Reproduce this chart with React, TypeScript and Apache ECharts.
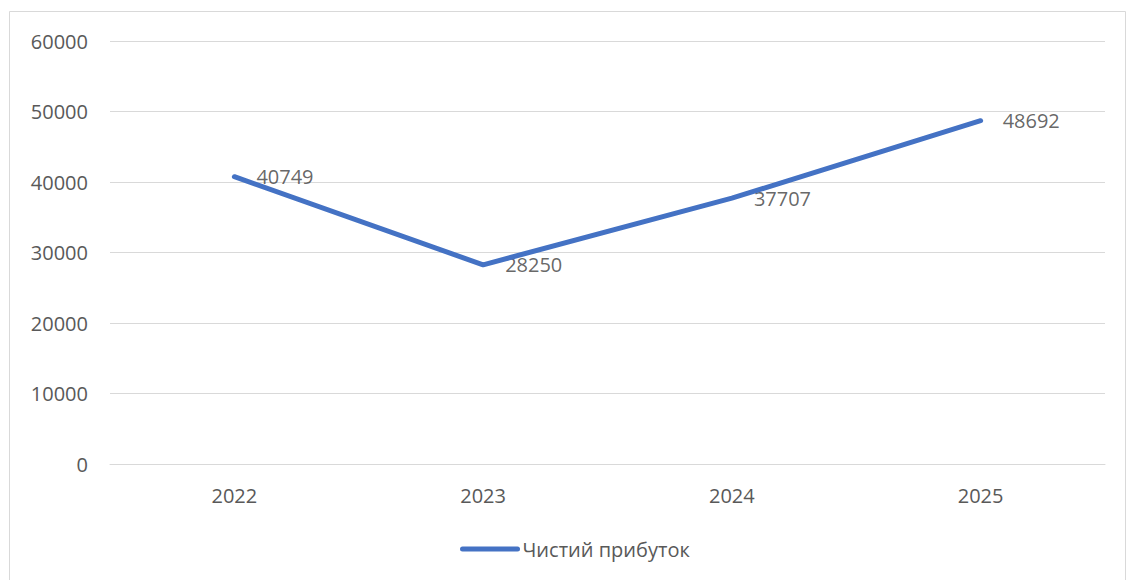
import React, { useEffect, useRef } from "react";
import * as echarts from "echarts";

const categories = ["2022", "2023", "2024", "2025"];
const netProfit = [40749, 28250, 37707, 48692];
const seriesName = "Чистий прибуток";

export default function App() {
  const ref = useRef<HTMLDivElement>(null);
  useEffect(() => {
    const chart = echarts.init(ref.current!, null, { renderer: "svg" });
    const font = "'Open Sans', 'Noto Sans', sans-serif";
    chart.setOption({
      animation: false,
      backgroundColor: "#ffffff",
      graphic: [
        {
          type: "rect",
          shape: { x: 9.5, y: 11.5, width: 1116, height: 580 },
          style: { fill: "none", stroke: "#d9d9d9", lineWidth: 1 },
          silent: true,
        },
      ],
      grid: { left: 110, right: 29, top: 41, bottom: 116, containLabel: false },
      xAxis: {
        type: "category",
        data: categories,
        boundaryGap: true,
        axisLine: { show: true, lineStyle: { color: "#d9d9d9", width: 1 } },
        axisTick: { show: false },
        axisLabel: { color: "#595959", fontSize: 20, fontFamily: font, margin: 21 },
      },
      yAxis: {
        type: "value",
        min: 0,
        max: 60000,
        interval: 10000,
        axisLine: { show: false },
        axisTick: { show: false },
        splitLine: { lineStyle: { color: "#d9d9d9", width: 1 } },
        axisLabel: {
          color: "#595959",
          fontSize: 20,
          fontFamily: font,
          margin: 22,
          formatter: (v: number) => String(v),
        },
      },
      legend: {
        top: 534,
        left: 455,
        itemWidth: 55,
        itemHeight: 20,
        itemStyle: { opacity: 0 },
        lineStyle: { width: 5, cap: "round", color: "#4472C4" },
        textStyle: { color: "#595959", fontSize: 20, fontFamily: font },
        data: [seriesName],
      },
      series: [
        {
          name: seriesName,
          type: "line",
          data: netProfit,
          symbol: "none",
          lineStyle: { color: "#4472C4", width: 5, cap: "round", join: "round" },
          itemStyle: { color: "#4472C4" },
        },
        {
          name: "labels",
          type: "scatter",
          data: netProfit,
          symbolSize: 0,
          silent: true,
          itemStyle: { color: "transparent" },
          label: {
            show: true,
            position: "right",
            distance: 22,
            color: "#404040",
            fontSize: 20,
            fontFamily: font,
            formatter: (p: any) => String(p.value),
          },
        },
      ],
    });
    return () => chart.dispose();
  }, []);
  return (
    <div
      ref={ref}
      style={{ position: "absolute", left: 0, top: 0, width: 1134, height: 580 }}
    />
  );
}
